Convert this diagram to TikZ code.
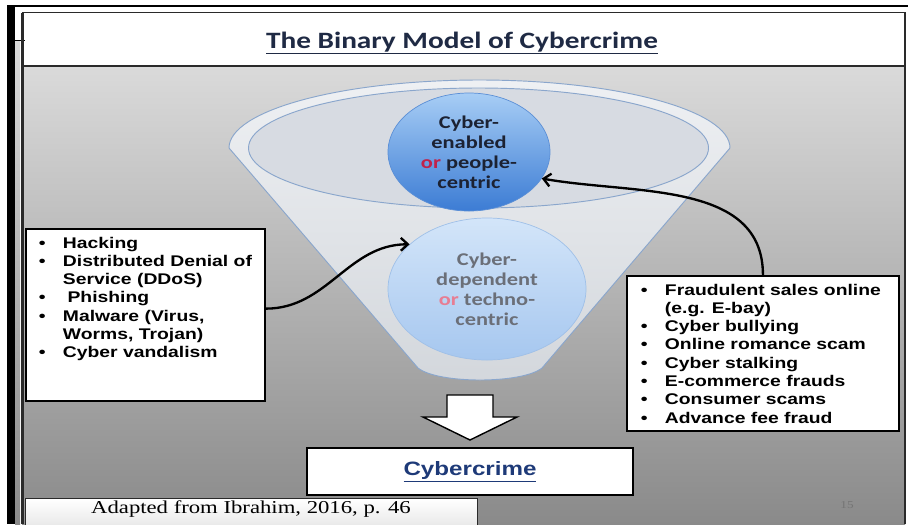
\documentclass[tikz,border=0pt]{standalone}
\usepackage{fontspec}
\usetikzlibrary{shapes.geometric,arrows.meta}
\newfontfamily\boxfont[FakeStretch=1.25]{Liberation Sans}
\newfontfamily\circfont[FakeStretch=1.25]{Carlito}
\newfontfamily\notefont[FakeStretch=1.25]{Liberation Serif}
\definecolor{paneltop}{HTML}{DADADA}
\definecolor{panelbot}{HTML}{8A8A8A}
\definecolor{framegray}{HTML}{2A2A2A}
\definecolor{titlenavy}{HTML}{1F2A44}
\definecolor{funnelline}{HTML}{8AA6CC}
\definecolor{funneltop}{HTML}{EEF0F3}
\definecolor{funnelbot}{HTML}{D3D7DC}
\definecolor{ringfill}{HTML}{D7DBE2}
\definecolor{enabledtop}{HTML}{A7CDF5}
\definecolor{enabledbot}{HTML}{3C7CD4}
\definecolor{enabledline}{HTML}{5B8FD6}
\definecolor{dependtop}{HTML}{D3E5F9}
\definecolor{dependbot}{HTML}{A6C7EF}
\definecolor{dependline}{HTML}{9FC0E8}
\definecolor{textnavy}{HTML}{1C2233}
\definecolor{orred}{HTML}{C0224B}
\definecolor{orpink}{HTML}{E77D93}
\definecolor{dependgray}{HTML}{6B6F78}
\definecolor{cybernavy}{HTML}{1E3A78}
\newcommand{\bul}{\makebox[20.5pt][l]{\textbullet}}
\newcommand{\cont}{\hspace*{20.5pt}}
\tikzset{
  listbox/.style={draw=black, line width=1.6pt, fill=white, anchor=north west,
    inner xsep=0.12cm, inner ysep=0.24cm,
    font=\boxfont\bfseries\fontsize{13.2}{15.6}\selectfont},
  crimecirc/.style={ellipse, inner sep=0pt, align=center, line width=0.6pt,
    font=\circfont\bfseries\fontsize{15.3}{17}\selectfont},
  curvearrow/.style={line width=2pt, -{Straight Barb[length=6pt,width=11pt]}}
}
\begin{document}
\begin{tikzpicture}[x=0.03cm,y=-0.03cm]
\useasboundingbox (0,0) rectangle (908,524);
% slide frame
\fill[white] (0,0) rectangle (908,524);
\fill[black] (7,5) rectangle (15,524);
\fill[black] (7,5) rectangle (908,7);
\fill[top color=paneltop, bottom color=panelbot] (15,40) rectangle (20,524);
\draw[line width=0.8pt] (15,40) -- (25,40);
\fill[top color=paneltop, bottom color=panelbot] (22,66) rectangle (905,524);
\draw[framegray, line width=3pt] (22.5,524) -- (22.5,12.5);
\draw[framegray, line width=1.6pt] (22,12.5) -- (905,12.5) -- (905,524);
\draw[framegray, line width=1.6pt] (22,66) -- (905,66);

\node[font=\circfont\bfseries\fontsize{20}{24}\selectfont, text=titlenavy] (title) at (462,43)
  {\underline{The Binary Model of Cybercrime}};

% funnel
\path[top color=funneltop, bottom color=funnelbot, draw=funnelline, line width=0.8pt]
  (229,148) -- (418,368) .. controls (438,384) and (522,384) .. (542,368) -- (730,148)
  arc[start angle=0, end angle=-180, x radius=250.5, y radius=68] -- cycle;
\draw[funnelline, fill=ringfill, line width=0.8pt] (478.5,148) ellipse[x radius=230, y radius=60];

\node[crimecirc, draw=enabledline, top color=enabledtop, bottom color=enabledbot,
  minimum width=4.86cm, minimum height=3.54cm, text=textnavy] (enabled) at (469,152)
  {Cyber-\\enabled\\{\color{orred}or} people-\\centric};
\node[crimecirc, draw=dependline, top color=dependtop, bottom color=dependbot,
  minimum width=5.94cm, minimum height=4.26cm, text=dependgray] (dependent) at (487,289)
  {Cyber-\\dependent\\{\color{orpink}or} techno-\\centric};

% lists
\node[listbox] (hacking) at (25,228) {\begin{minipage}[t][4.68cm][t]{6.93cm}
\leftskip=0.27cm
\bul Hacking\\
\bul Distributed Denial of\\
\cont Service (DDoS)\\
\bul\hspace{0.3em}Phishing\\
\bul Malware (Virus,\\
\cont Worms, Trojan)\\
\bul Cyber vandalism
\end{minipage}};
\node[listbox] (fraud) at (626,275) {\begin{minipage}[t][4.17cm][t]{7.92cm}
\leftskip=0.3cm
\bul Fraudulent sales online\\
\cont (e.g. E-bay)\\
\bul Cyber bullying\\
\bul Online romance scam\\
\bul Cyber stalking\\
\bul E-commerce frauds\\
\bul Consumer scams\\
\bul Advance fee fraud
\end{minipage}};

\draw[curvearrow] (hacking.3) to[out=0, in=180] (dependent.150);
\draw[curvearrow] (fraud.north) to[out=90, in=-10] (enabled.-20);

% result
\draw[fill=white, line width=1.2pt] (447,395) -- (493,395) -- (493,417) -- (517,417)
  -- (470,440) -- (423,417) -- (447,417) -- cycle;
\node[draw=black, line width=1.6pt, fill=white, minimum width=9.78cm, minimum height=1.41cm,
  font=\boxfont\bfseries\fontsize{16.5}{20}\selectfont, text=cybernavy] (crime) at (470,471.5)
  {\underline{Cybercrime}};

\node[anchor=north, draw=framegray, line width=0.6pt, top color=white, bottom color=black!12,
  minimum width=13.56cm, inner ysep=0.09cm, text height=0.36cm, text depth=0.6cm,
  font=\notefont\fontsize{15.5}{18}\selectfont] (source) at (251,498)
  {Adapted from Ibrahim, 2016, p. 46};
\node[font=\notefont\fontsize{9}{10}\selectfont, text=panelbot!85!black] (pagenum) at (847,505) {15};
\end{tikzpicture}
\end{document}
